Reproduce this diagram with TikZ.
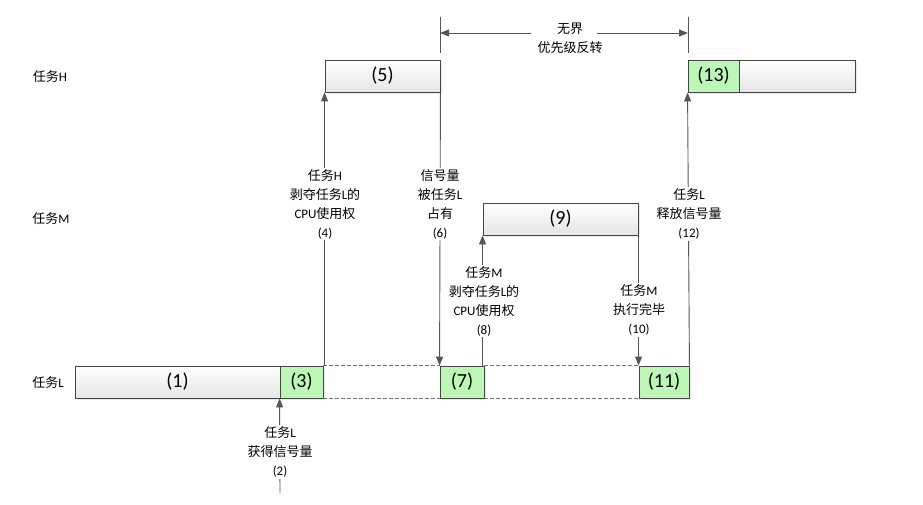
\documentclass[tikz,border=0pt]{standalone}
\usepackage{fontspec}
\setmainfont{Carlito}
\newfontfamily\cjk{Noto Sans CJK SC}
\newcommand\zh[1]{{\cjk #1}}
\usetikzlibrary{arrows.meta,shadows}
\definecolor{gbl}{RGB}{188,247,182}
\definecolor{edge}{RGB}{70,70,70}
\definecolor{lin}{RGB}{85,85,85}
\begin{document}
\begin{tikzpicture}[x=1pt,y=-1pt,
  boxbase/.style={draw=edge,line width=0.9pt,minimum height=32pt,inner sep=0pt,
    font=\fontsize{20}{20}\selectfont,
    drop shadow={shadow xshift=1.6pt,shadow yshift=-1.6pt,fill=black!18}},
  box/.style={boxbase,top color=white,bottom color=black!10},
  gbox/.style={boxbase,fill=gbl},
  lab/.style={align=center,fill=white,inner sep=1.5pt,font=\fontsize{13}{19}\selectfont},
  rowlab/.style={inner sep=0pt,font=\fontsize{13}{13}\selectfont},
  conn/.style={draw=lin,line width=0.9pt},
  arr/.style={conn,-{Triangle[length=9pt,width=7pt]}},
  dashline/.style={draw=black!55,line width=0.9pt,dash pattern=on 3.5pt off 2.5pt}
]
\useasboundingbox (0,0) rectangle (923,505);

% row labels
\node[rowlab] (lh) at (50,77) {\zh{任务}H};
\node[rowlab] (lm) at (51,219) {\zh{任务}M};
\node[rowlab] (ll) at (48,383) {\zh{任务}L};

% task L row
\node[box,minimum width=205pt] (b1) at (177.5,382) {(1)};
\node[gbox,minimum width=43pt] (b3) at (301.5,382) {(3)};
\node[gbox,minimum width=44pt] (b7) at (462,382) {(7)};
\node[gbox,minimum width=50pt] (b11) at (664,382) {(11)};
\draw[dashline] (b3.north east) -- (b7.north west);
\draw[dashline] (b3.south east) -- (b7.south west);
\draw[dashline] (b7.north east) -- (b11.north west);
\draw[dashline] (b7.south east) -- (b11.south west);

% task M row
\node[box,minimum width=155pt] (b9) at (560.5,219) {(9)};

% task H row
\node[box,minimum width=115pt] (b5) at (382.5,76) {(5)};
\node[gbox,minimum width=51pt] (b13) at (713.5,76) {(13)};
\node[box,minimum width=116pt] (b13b) at (797,76) {};

% connectors
\coordinate (c2) at (280,493);
\draw[arr] (c2) -- (b3.south west);
\draw[arr] (b5.south west |- b3.north) -- (b5.south west);
\draw[arr] (b5.south east) -- (b7.north west);
\draw[arr] (b9.south west |- b7.north) -- (b9.south west);
\draw[arr] (b9.south east) -- (b11.north west);
\draw[arr] (b11.north east) -- (b13.south west);

% labels
\node[lab] (l2) at (280,452) {\zh{任务}L\\\zh{获得信号量}\\(2)};
\node[lab] (l4) at (325,204) {\zh{任务}H\\\zh{剥夺任务}L\zh{的}\\CPU\zh{使用权}\\(4)};
\node[lab] (l6) at (440,204) {\zh{信号量}\\\zh{被任务}L\\\zh{占有}\\(6)};
\node[lab] (l8) at (484,301) {\zh{任务}M\\\zh{剥夺任务}L\zh{的}\\CPU\zh{使用权}\\(8)};
\node[lab] (l10) at (639,310) {\zh{任务}M\\\zh{执行完毕}\\(10)};
\node[lab] (l12) at (689,214) {\zh{任务}L\\\zh{释放信号量}\\(12)};

% unbounded priority inversion
\coordinate (t1a) at (440,17);
\coordinate (t1b) at (440,53);
\coordinate (t2a) at (688,17);
\coordinate (t2b) at (688,53);
\draw[conn] (t1a) -- (t1b);
\draw[conn] (t2a) -- (t2b);
\node[lab,fill=none] (inv) at (570,38) {\zh{无界}\\\zh{优先级反转}};
\coordinate (al) at (531,33);
\coordinate (ar) at (597,33);
\draw[arr] (al) -- (t1a |- al);
\draw[arr] (ar) -- (t2a |- ar);
\end{tikzpicture}
\end{document}
